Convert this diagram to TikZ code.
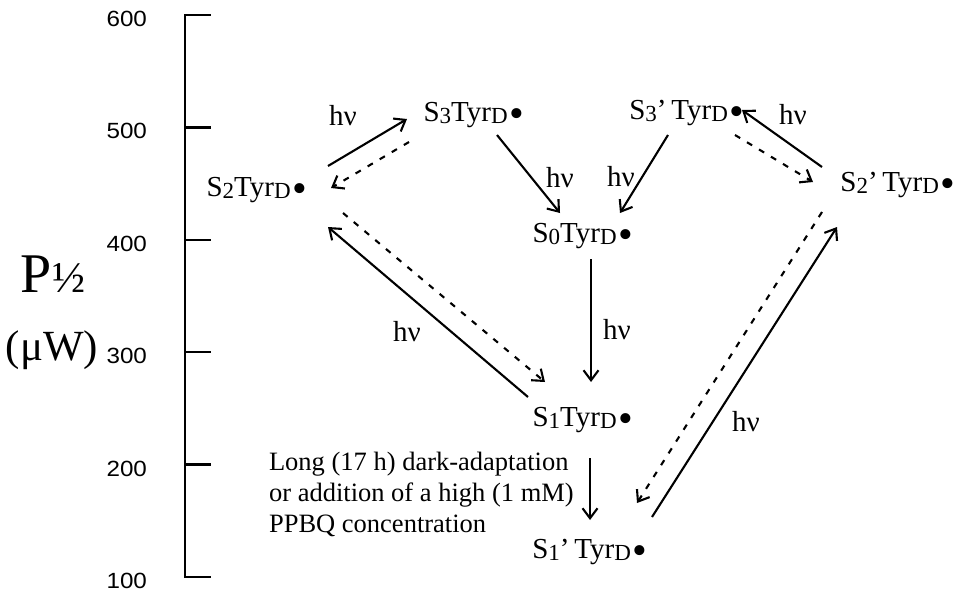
\documentclass[tikz,border=0pt]{standalone}
\usepackage{fontspec}
\setmainfont{Liberation Serif}
\newfontfamily\tickfont[FakeStretch=1.1]{Liberation Sans}
\usetikzlibrary{arrows.meta}

\newcommand{\lowsub}[1]{\raisebox{-2.5pt}{\fontsize{23}{23}\selectfont #1}}
\newcommand{\bigdot}{{\fontsize{42}{42}\selectfont\raisebox{-6.5pt}{\textbullet}}}
\newcommand{\tyr}[2]{S\lowsub{#1}#2Tyr\lowsub{D}\kern2pt\bigdot}

\begin{document}
\begin{tikzpicture}[x=1pt, y=-1pt,
  >={Straight Barb[length=10pt,width=15pt]},
  line width=2.1pt,
  state/.style={inner sep=0pt, font=\fontsize{29}{29}\selectfont},
  light/.style={inner sep=0pt, font=\fontsize{29}{29}\selectfont},
  back/.style={->, dash pattern=on 6pt off 8pt}]

\useasboundingbox (0,0) rectangle (965,595);

% Eix

\draw[line width=2.8pt] (185,15) -- (185,577);

\foreach \val in {100,200,...,600}{
  \draw[line width=2.3pt] (184,{577-(\val-100)*1.124}) -- (211,{577-(\val-100)*1.124});
  \node[anchor=east, inner sep=0pt, font=\tickfont\fontsize{22}{22}\selectfont]
    (tick\val) at (148,{581-(\val-100)*1.124}) {\val};
}

\node[inner sep=0pt, font=\fontsize{56}{56}\selectfont] (plabel) at (53,274)
  {P{\fontsize{44}{44}\selectfont ½}};

\node[inner sep=0pt, font=\fontsize{43}{43}\selectfont] (unit) at (52,350) {(μW)};

% Estats

\node[state] (s2) at (257,190) {\tyr{2}{}};
\node[state] (s3) at (474,115) {\tyr{3}{}};
\node[state] (s0) at (583,236) {\tyr{0}{}};
\node[state] (s1) at (583,420) {\tyr{1}{}};
\node[state] (s1p) at (590,552) {\tyr{1}{'\,}};
\node[state] (s3p) at (687,113) {\tyr{3}{'\,}};
\node[state] (s2p) at (898,185) {\tyr{2}{'\,}};

\node[anchor=west, align=left, inner sep=0pt, font=\fontsize{26.5}{31}\selectfont]
  (note) at (268,494) {Long (17 h) dark-adaptation\\or addition of a high (1 mM)\\PPBQ concentration};

% Fletxes

\draw[->] ([shift={(71,-24)}]s2.center) -- ([shift={(-67,4)}]s3.center);
\draw[back] ([shift={(-65,27)}]s3.center) -- ([shift={(74,-2)}]s2.center);

\draw[->] ([shift={(23,20)}]s3.center) -- ([shift={(-23,-23)}]s0.center);

\draw[->] ([shift={(-19,22)}]s3p.center) -- ([shift={(37,-23)}]s0.center);

\draw[->] ([shift={(-76,-18)}]s2p.center) -- ([shift={(55,-3)}]s3p.center);
\draw[back] ([shift={(48,22)}]s3p.center) -- ([shift={(-85,-3)}]s2p.center);

\draw[->] ([shift={(-55,-23)}]s1.center) -- ([shift={(71,37)}]s2.center);
\draw[back] ([shift={(86,23)}]s2.center) -- ([shift={(-38,-38)}]s1.center);

\draw[->] ([shift={(8,23)}]s0.center) -- ([shift={(8,-38)}]s1.center);

\draw[->] ([shift={(7,38)}]s1.center) -- ([shift={(0,-32)}]s1p.center);

\draw[->] ([shift={(62,-35)}]s1p.center) -- ([shift={(-61,42)}]s2p.center);
\draw[back] ([shift={(-76,27)}]s2p.center) -- ([shift={(47,-49)}]s1p.center);

% Llum

\node[light] (hv23) at (343,116) {hν};
\node[light] (hv30) at (560,178) {hν};
\node[light] (hv30p) at (621,177) {hν};
\node[light] (hv23p) at (793,115) {hν};
\node[light] (hv12) at (407,332) {hν};
\node[light] (hv01) at (617,330) {hν};
\node[light] (hv12p) at (746,422) {hν};

\end{tikzpicture}
\end{document}
